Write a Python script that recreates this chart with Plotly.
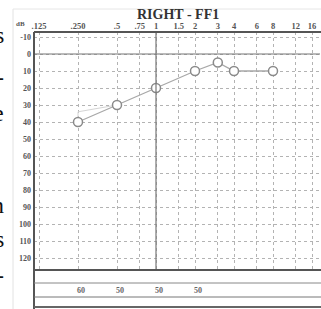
import math
import plotly.graph_objects as go

# ---- data ----
freq_ticks = [125, 250, 500, 750, 1000, 1500, 2000, 3000, 4000, 6000, 8000, 12000, 16000]
freq_labels = [".125", ".250", ".5", ".75", "1", "1.5", "2", "3", "4", "6", "8", "12", "16"]
db_ticks = [-10, 0, 10, 20, 30, 40, 50, 60, 70, 80, 90, 100, 110, 120]

thr_freq = [250, 500, 1000, 2000, 3000, 4000, 8000]
thr_db = [40, 30, 20, 10, 5, 10, 10]

ghost_freq = [250, 250, 500]
ghost_db = [40, 34, 30]

table_freq = [250, 500, 1000, 2000]
table_vals = ["60", "50", "50", "50"]

side_letters = ["s", "-", "e", "n", "s", "-"]
side_letter_y = [35, 77, 113, 205, 239, 275]  # pixel rows of the cut page text

# ---- geometry ----
W, H = 321, 309
L, R, T, B = 34, 1, 32, 39
PW, PH = W - L - R, H - T - B
XR = [2.0583, 4.2659]

def px_x(px):
    return (px - L) / PW

def px_y(py):
    return (H - B - py) / PH

def freq_paper(f):
    return (math.log10(f) - XR[0]) / (XR[1] - XR[0])

SERIF = "Liberation Serif"

fig = go.Figure()

fig.add_trace(go.Scatter(
    x=ghost_freq, y=ghost_db, mode="lines",
    line=dict(color="#d4d4d4", width=1), hoverinfo="skip", showlegend=False))

fig.add_trace(go.Scatter(
    x=thr_freq, y=thr_db, mode="lines+markers",
    line=dict(color="#a8a8a8", width=1.3),
    marker=dict(symbol="circle", size=9, color="white",
                line=dict(color="#8a8a8a", width=1.5)),
    showlegend=False))

shapes = []
shapes.append(dict(type="line", xref="x", yref="paper", x0=1000, x1=1000, y0=0, y1=1,
                   line=dict(color="#777", width=1.2)))
shapes.append(dict(type="line", xref="paper", yref="y", x0=0, x1=1, y0=0, y1=0,
                   line=dict(color="#777", width=1.2)))
shapes.append(dict(type="line", xref="paper", yref="paper", x0=0, x1=1.01, y0=1, y1=1,
                   line=dict(color="#555", width=2)))
shapes.append(dict(type="line", xref="paper", yref="paper", x0=0, x1=0, y0=px_y(H + 2), y1=1,
                   line=dict(color="#555", width=2)))
for py, w, c in [(270, 2, "#555"), (283, 1, "#888"), (297, 1, "#777"), (307, 2, "#666")]:
    shapes.append(dict(type="line", xref="paper", yref="paper", x0=0, x1=1.01,
                       y0=px_y(py), y1=px_y(py), line=dict(color=c, width=w)))
shapes.append(dict(type="line", xref="paper", yref="paper", x0=px_x(13), x1=px_x(13),
                   y0=px_y(H + 2), y1=px_y(9), line=dict(color="#e2e2e2", width=1)))
shapes.append(dict(type="line", xref="paper", yref="paper", x0=px_x(13), x1=px_x(W + 2),
                   y0=px_y(9), y1=px_y(9), line=dict(color="#e6e6e6", width=1)))

annotations = []
annotations.append(dict(text="<b>RIGHT - FF1</b>", xref="paper", yref="paper",
                        x=px_x(178), y=px_y(14.5), xanchor="center", yanchor="middle",
                        showarrow=False, font=dict(family=SERIF, size=14, color="#333")))
annotations.append(dict(text="<b>dB</b>", xref="paper", yref="paper",
                        x=px_x(20), y=px_y(24), xanchor="center", yanchor="middle",
                        showarrow=False, font=dict(family=SERIF, size=7, color="#555")))
for f, v in zip(table_freq, table_vals):
    annotations.append(dict(text="<b>" + v + "</b>", xref="paper", yref="paper",
                            x=freq_paper(f), y=px_y(290),
                            xanchor="center", yanchor="middle", xshift=3, showarrow=False,
                            font=dict(family=SERIF, size=8, color="#666")))
for ch, py in zip(side_letters, side_letter_y):
    annotations.append(dict(text=ch, xref="paper", yref="paper", x=px_x(6), y=px_y(py),
                            xanchor="right", yanchor="middle", showarrow=False,
                            font=dict(family=SERIF, size=24, color="#111")))

fig.update_layout(
    width=W, height=H, margin=dict(l=L, r=R, t=T, b=B, autoexpand=False),
    paper_bgcolor="white", plot_bgcolor="white",
    shapes=shapes, annotations=annotations,
    xaxis=dict(type="log", range=XR, side="top", automargin=False,
               tickvals=freq_ticks, ticktext=["<b>" + s + "</b>" for s in freq_labels],
               tickfont=dict(family=SERIF, size=8.5, color="#555"),
               showgrid=True, gridcolor="#b3b3b3", griddash="dot", gridwidth=1,
               zeroline=False, showline=False, ticks="", ticklabelstandoff=0),
    yaxis=dict(range=[127.06, -12.94], tickvals=db_ticks, automargin=False,
               ticktext=["<b>" + str(v) + "</b>" for v in db_ticks],
               tickfont=dict(family=SERIF, size=8, color="#555"),
               showgrid=True, gridcolor="#b3b3b3", griddash="dot", gridwidth=1,
               zeroline=False, showline=False, ticks="", ticklabelstandoff=2),
)

fig.write_html("out.html", config={"displayModeBar": False},
               post_script="document.body.style.margin='0px';document.body.style.overflow='hidden';")
